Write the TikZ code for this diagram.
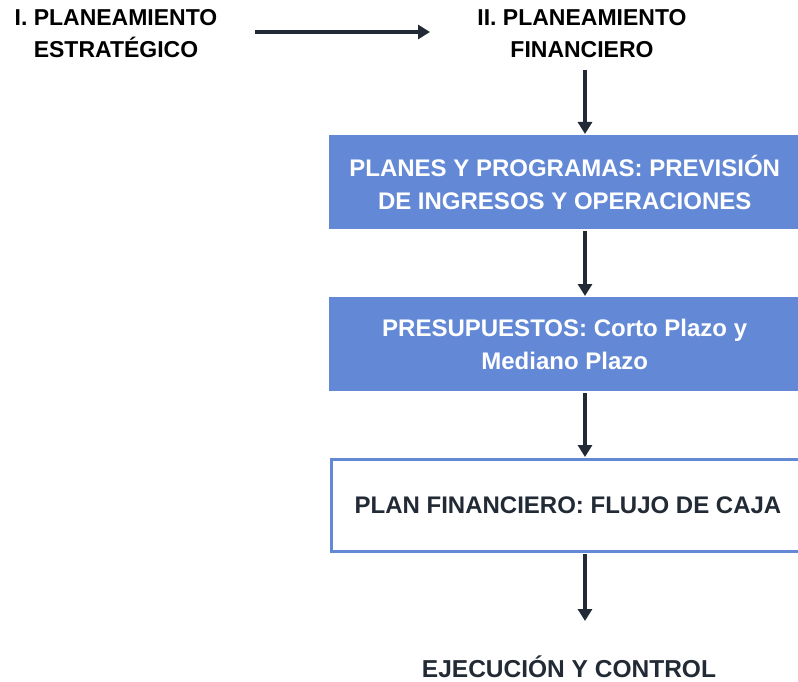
\documentclass[tikz,border=0pt]{standalone}
\usepackage{fontspec}
\setmainfont{Liberation Sans}
\usetikzlibrary{arrows.meta,calc}
\definecolor{boxblue}{HTML}{6389D6}
\definecolor{navy}{HTML}{222A35}
\tikzset{
  conn/.style={draw=navy, line width=3.5pt, -{Triangle[length=12pt,width=14pt]}},
  toplabel/.style={font=\bfseries\fontsize{23}{32}\selectfont, text=black, align=center, inner sep=0pt},
  fillbox/.style={fill=boxblue, draw=none, minimum width=471pt, minimum height=94pt, text=white, align=center, font=\bfseries\fontsize{24}{33}\selectfont, inner sep=0pt},
  linebox/.style={fill=white, draw=boxblue, line width=3pt, minimum width=474pt, minimum height=92pt, text=navy, align=center, font=\bfseries\fontsize{24}{33}\selectfont, inner sep=0pt},
  endlabel/.style={font=\bfseries\fontsize{24.5}{33}\selectfont, text=navy, inner sep=0pt}
}
\begin{document}
\begin{tikzpicture}[x=1pt,y=-1pt]
\useasboundingbox (0,0) rectangle (798,682);
\node[toplabel] (ps) at (116,34) {I. PLANEAMIENTO\\ESTRATÉGICO};
\node[toplabel] (pf) at (582,34) {II. PLANEAMIENTO\\FINANCIERO};
\node[fillbox, anchor=north west] (b1) at (329,135) {PLANES Y PROGRAMAS: PREVISIÓN\\DE INGRESOS Y OPERACIONES};
\node[fillbox, anchor=north west] (b2) at (329,297) {PRESUPUESTOS: Corto Plazo y\\Mediano Plazo};
\node[linebox, anchor=north west] (b3) at (329.5,458) {PLAN FINANCIERO: FLUJO DE CAJA};
\node[endlabel, anchor=base] (ec) at (569,677) {EJECUCIÓN Y CONTROL};
\coordinate (a1s) at (255,32);
\coordinate (a1e) at (430,32);
\draw[conn] (a1s) -- (a1e);
\coordinate (p1s) at (585,70);
\draw[conn] (p1s) -- ($(b1.north -| p1s)+(0,-1)$);
\draw[conn] ($(b1.south -| p1s)+(0,2)$) -- ($(b2.north -| p1s)+(0,-1)$);
\draw[conn] ($(b2.south -| p1s)+(0,2)$) -- ($(b3.north -| p1s)+(0,-1)$);
\coordinate (p4e) at (585,621);
\draw[conn] ($(b3.south -| p1s)+(0,1)$) -- (p4e);
\end{tikzpicture}
\end{document}
